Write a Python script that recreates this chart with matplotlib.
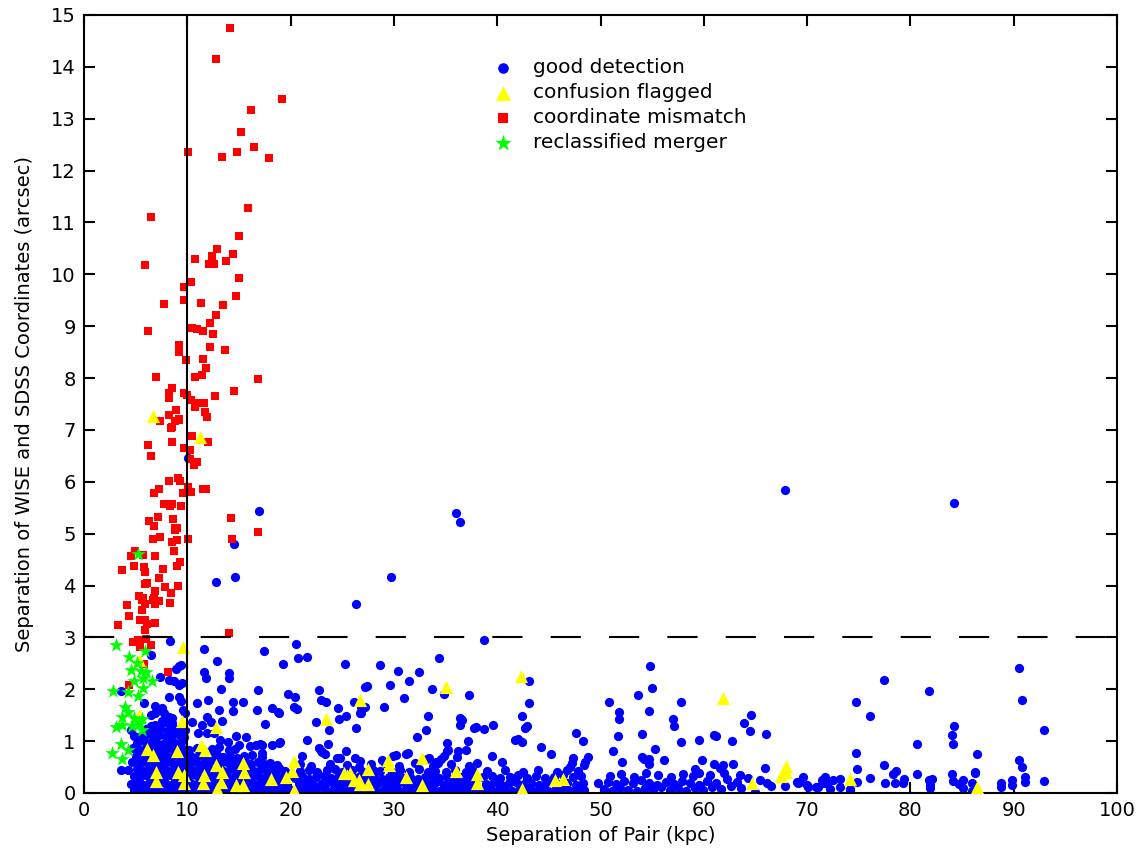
import matplotlib
matplotlib.use("Agg")
import matplotlib.pyplot as plt

# good detections, isolated points above the dense band
blue_sparse = [
    (10.1, 6.46), (16.9, 5.43), (14.5, 4.80), (12.8, 4.07), (14.6, 4.16),
    (8.3, 2.93), (11.6, 2.77), (17.4, 2.74), (6.5, 2.66), (12.9, 2.55), (19.3, 2.49),
    (9.2, 2.45), (9.4, 2.47), (8.9, 2.40), (11.6, 2.33), (14.0, 2.32), (11.8, 2.21),
    (14.0, 2.22), (7.4, 2.23), (8.2, 2.18), (8.7, 2.16), (9.5, 2.13), (9.2, 2.08),
    (13.3, 2.00), (16.8, 1.99), (3.6, 1.97), (8.2, 1.86), (9.2, 1.86), (9.4, 1.77),
    (12.0, 1.79), (14.4, 1.75), (15.4, 1.75), (10.9, 1.73), (5.8, 1.73), (6.9, 1.68),
    (7.5, 1.63), (9.6, 1.60), (9.8, 1.55), (13.1, 1.60), (14.4, 1.59), (16.7, 1.60),
    (18.2, 1.63), (18.9, 1.55), (6.5, 1.50), (6.9, 1.54), (7.7, 1.55), (8.2, 1.47),
    (8.5, 1.44), (11.9, 1.46), (7.5, 1.38), (7.9, 1.36), (8.5, 1.34), (8.5, 1.28),
    (10.5, 1.37), (11.4, 1.32), (12.3, 1.37), (13.4, 1.39), (17.5, 1.33), (6.5, 1.30),
    (6.9, 1.31), (9.8, 1.21), (11.0, 1.15), (11.9, 1.15), (12.6, 1.16), (14.7, 1.10),
    (15.7, 1.07), (17.0, 0.94), (18.2, 0.93), (18.9, 0.96), (13.2, 1.02), (13.9, 0.99),
    (15.0, 0.93), (16.1, 0.91), (3.6, 0.44), (4.5, 1.21), (4.8, 1.09),
    (20.5, 2.87), (20.7, 2.60), (21.6, 2.62), (25.3, 2.49), (26.3, 3.64), (28.7, 2.47),
    (22.7, 1.99), (22.9, 1.79), (23.4, 1.76), (24.6, 1.63), (25.4, 1.48), (24.7, 1.42),
    (26.1, 1.76), (26.8, 1.55), (27.2, 2.05), (27.4, 2.06), (26.3, 1.26), (23.7, 1.21),
    (22.5, 1.36), (19.7, 1.91), (20.4, 1.86), (20.3, 1.65), (20.6, 1.61), (18.8, 1.57),
    (21.6, 1.02), (23.6, 0.94), (22.7, 0.86), (22.9, 0.80), (25.4, 0.80), (26.2, 0.67),
    (26.6, 0.51), (24.5, 0.67), (17.2, 0.93), (16.6, 0.93), (17.2, 0.77),
    (30.4, 2.36), (32.4, 2.33), (31.5, 2.15), (34.4, 2.61), (29.6, 2.09), (33.7, 2.01),
    (34.8, 1.90), (31.0, 1.84), (37.3, 1.88), (27.2, 1.66), (26.8, 1.66), (29.0, 1.66),
    (26.7, 1.54), (33.3, 1.48), (36.4, 1.45), (36.6, 1.41), (36.4, 1.32), (37.8, 1.26),
    (33.1, 1.22), (32.2, 1.07), (37.2, 1.01), (35.1, 0.97), (19.0, 0.99), (23.0, 0.79),
    (23.3, 0.75), (31.4, 0.78), (31.2, 0.75), (30.2, 0.73), (29.9, 0.72), (33.2, 0.66),
    (34.1, 0.60), (35.1, 0.81), (34.8, 0.72), (36.2, 0.80), (37.0, 0.83), (38.0, 0.57),
    (21.1, 0.72), (24.8, 0.68), (26.7, 0.62), (28.8, 0.64), (29.1, 0.57),
    (38.7, 2.94), (43.1, 2.16), (43.1, 1.74), (42.4, 1.48), (42.7, 1.25), (42.9, 1.30),
    (37.9, 1.27), (38.7, 1.23), (39.6, 1.31), (41.7, 1.03), (42.0, 1.05), (42.4, 0.98),
    (39.5, 0.72), (44.2, 0.89), (45.2, 0.75), (47.6, 1.16), (48.3, 1.01), (40.5, 0.60),
    (47.3, 0.67), (47.2, 0.58), (48.8, 0.70), (48.5, 0.60), (48.4, 0.54), (46.8, 0.44),
    (47.0, 0.51), (50.8, 1.76), (51.8, 1.57), (51.8, 1.43), (51.7, 1.10), (51.2, 0.81),
    (52.1, 0.60), (53.6, 1.88), (54.8, 2.44), (55.0, 2.03), (54.7, 1.59), (54.0, 1.14),
    (55.3, 0.84), (54.0, 0.70), (54.2, 0.65), (54.7, 0.56), (54.7, 0.65), (56.1, 0.64),
    (57.0, 1.42), (57.1, 1.30), (49.8, 0.19),
    (29.7, 4.16), (36.0, 5.39), (36.4, 5.23), (57.8, 1.76), (57.8, 0.99), (59.5, 1.03),
    (59.8, 0.64), (61.0, 1.12), (61.2, 1.09), (62.7, 1.00), (63.9, 1.34), (64.6, 1.50),
    (64.5, 1.20), (66.0, 1.13), (65.9, 0.48), (62.8, 0.56), (61.9, 0.54), (61.6, 0.48),
    (59.1, 0.46), (59.5, 0.39), (35.2, 0.82), (36.1, 0.69), (34.6, 0.65), (34.3, 0.58),
    (33.4, 0.67),
    (74.7, 1.76), (77.4, 2.17), (76.1, 1.48), (74.7, 0.77), (80.6, 0.94), (61.0, 0.55),
    (74.8, 0.46), (77.4, 0.54), (78.3, 0.37), (78.6, 0.42), (80.6, 0.36), (76.1, 0.28),
    (74.8, 0.22), (77.5, 0.20), (78.5, 0.20), (79.3, 0.20), (79.4, 0.26), (74.2, 0.06),
    (65.0, 0.01), (69.6, 0.31), (69.3, 0.22), (70.0, 0.15),
    (67.9, 5.85), (84.2, 5.59), (90.5, 2.41), (81.8, 1.97), (90.8, 1.79), (84.2, 1.30),
    (84.0, 1.11), (84.1, 0.95), (92.9, 1.21), (86.4, 0.75), (90.5, 0.64), (90.8, 0.50),
    (91.1, 0.30), (91.1, 0.21), (92.9, 0.23), (81.8, 0.25), (82.1, 0.26), (81.9, 0.15),
    (81.9, 0.09), (84.0, 0.37), (84.1, 0.23), (84.7, 0.17), (85.1, 0.25), (85.1, 0.09),
    (86.0, 0.20), (86.3, 0.41), (86.3, 0.38), (86.0, 0.04), (88.8, 0.20), (88.8, 0.11),
    (89.8, 0.25), (89.8, 0.15), (65.4, 0.25), (66.1, 0.19), (66.5, 0.14), (67.9, 0.14),
    (69.0, 0.22), (69.1, 0.19), (70.1, 0.12), (70.9, 0.11), (71.1, 0.12), (71.4, 0.25),
    (71.6, 0.19), (71.7, 0.31), (71.9, 0.20), (72.2, 0.07), (72.5, 0.25), (73.2, 0.26),
    (73.2, 0.11), (74.2, 0.07),
]

# good detections, crowded band at small pair separation (< 10 kpc)
blue_close = [
    (4.8, 0.06), (5.4, 0.03), (6.0, 0.07), (6.6, 0.04), (7.2, 0.06), (7.8, 0.03), (8.4, 0.07), (9.0, 0.04), (9.6, 0.06),
    (4.5, 0.18), (5.1, 0.20), (5.7, 0.16), (6.3, 0.19), (6.9, 0.17), (7.5, 0.21), (8.1, 0.16), (8.7, 0.20), (9.3, 0.18), (9.9, 0.15),
    (4.8, 0.33), (5.4, 0.30), (6.0, 0.34), (6.6, 0.31), (7.2, 0.33), (7.8, 0.30), (8.4, 0.34), (9.0, 0.31), (9.6, 0.33),
    (4.3, 0.44), (5.1, 0.46), (5.7, 0.43), (6.3, 0.47), (6.9, 0.44), (7.5, 0.46), (8.1, 0.43), (8.7, 0.47), (9.3, 0.44), (9.9, 0.46),
    (4.6, 0.60), (5.4, 0.57), (6.0, 0.60), (6.6, 0.56), (7.2, 0.59), (7.8, 0.57), (8.4, 0.60), (9.0, 0.56), (9.6, 0.59),
    (5.0, 0.72), (5.7, 0.70), (6.3, 0.73), (6.9, 0.69), (7.5, 0.72), (8.1, 0.70), (8.7, 0.73), (9.3, 0.70), (9.9, 0.72),
    (4.7, 0.86), (5.4, 0.83), (6.0, 0.86), (6.6, 0.82), (7.2, 0.85), (7.8, 0.83), (8.4, 0.86), (9.0, 0.82), (9.6, 0.85),
    (5.1, 0.97), (5.8, 1.00), (6.4, 0.96), (7.0, 0.99), (7.6, 0.95), (8.2, 0.98), (8.8, 0.96), (9.4, 0.99),
    (5.5, 1.10), (6.1, 1.13), (6.7, 1.09), (7.3, 1.12), (7.9, 1.08), (8.5, 1.11), (9.1, 1.13), (9.7, 1.08),
    (6.0, 1.24), (6.8, 1.21), (7.4, 1.25), (8.0, 1.20), (8.9, 1.23), (9.6, 1.22),
]

# good detections, 10 - 20 kpc
blue_mid = [
    (10.2, 0.05), (10.8, 0.08), (11.4, 0.03), (12.0, 0.06), (12.6, 0.09), (13.2, 0.04), (13.8, 0.07), (14.4, 0.03), (15.0, 0.06),
    (15.6, 0.09), (16.2, 0.04), (16.8, 0.07), (17.4, 0.03), (18.0, 0.06), (18.6, 0.09), (19.2, 0.04), (19.8, 0.07),
    (10.5, 0.18), (11.1, 0.21), (11.7, 0.16), (12.3, 0.19), (12.9, 0.22), (13.5, 0.17), (14.1, 0.20), (14.7, 0.16),
    (15.3, 0.19), (15.9, 0.22), (16.5, 0.17), (17.1, 0.20), (17.7, 0.16), (18.3, 0.19), (18.9, 0.22), (19.5, 0.17),
    (10.2, 0.31), (10.8, 0.34), (11.4, 0.29), (12.0, 0.32), (12.6, 0.35), (13.2, 0.30), (13.8, 0.33), (14.4, 0.29), (15.0, 0.32),
    (15.6, 0.35), (16.2, 0.30), (16.8, 0.33), (17.4, 0.29), (18.0, 0.32), (18.6, 0.35), (19.2, 0.30), (19.8, 0.33),
    (10.5, 0.44), (11.1, 0.47), (11.7, 0.42), (12.3, 0.45), (12.9, 0.48), (13.5, 0.43), (14.1, 0.46), (14.7, 0.42),
    (15.3, 0.45), (15.9, 0.48), (16.5, 0.43), (17.1, 0.46), (17.7, 0.42), (18.3, 0.45), (18.9, 0.48), (19.5, 0.43),
    (10.2, 0.57), (10.8, 0.60), (11.4, 0.55), (12.0, 0.58), (12.6, 0.61), (13.2, 0.56), (13.8, 0.59), (14.4, 0.55),
    (15.0, 0.58), (15.6, 0.61), (16.2, 0.56), (16.8, 0.59), (17.4, 0.55), (18.0, 0.58), (18.7, 0.54),
    (10.5, 0.70), (11.1, 0.73), (11.7, 0.68), (12.3, 0.71), (12.9, 0.74), (13.5, 0.69), (14.1, 0.72), (14.8, 0.68),
    (15.5, 0.71), (16.3, 0.74), (17.2, 0.69),
    (10.2, 0.83), (10.9, 0.86), (11.6, 0.81), (12.4, 0.85), (13.1, 0.88), (14.0, 0.82), (14.6, 0.85),
]

# good detections, 20 - 38 kpc
blue_wide = [
    (20.4, 0.05), (21.1, 0.08), (21.8, 0.03), (22.5, 0.06), (23.2, 0.09), (23.9, 0.04), (24.6, 0.07), (25.3, 0.03), (26.0, 0.06),
    (26.7, 0.09), (27.4, 0.04), (28.1, 0.07), (28.8, 0.03), (29.5, 0.06), (30.2, 0.09), (30.9, 0.04), (31.6, 0.07), (32.3, 0.03),
    (33.0, 0.06), (33.7, 0.09), (34.4, 0.04), (35.1, 0.07), (35.8, 0.03), (36.5, 0.06), (37.2, 0.09), (37.9, 0.04),
    (20.8, 0.17), (21.5, 0.20), (22.2, 0.15), (22.9, 0.18), (23.6, 0.21), (24.3, 0.16), (25.0, 0.19), (25.7, 0.15), (26.4, 0.18),
    (27.1, 0.21), (27.8, 0.16), (28.5, 0.19), (29.2, 0.15), (29.9, 0.18), (30.6, 0.21), (31.3, 0.16), (32.0, 0.19), (32.7, 0.15),
    (33.4, 0.18), (34.1, 0.21), (34.8, 0.16), (35.5, 0.19), (36.2, 0.15), (36.9, 0.18), (37.6, 0.21),
    (20.4, 0.29), (21.1, 0.32), (21.8, 0.27), (22.5, 0.30), (23.2, 0.33), (23.9, 0.28), (24.6, 0.31), (25.3, 0.27), (26.0, 0.30),
    (26.7, 0.33), (27.4, 0.28), (28.1, 0.31), (28.8, 0.27), (29.5, 0.30), (30.2, 0.33), (30.9, 0.28), (31.6, 0.31), (32.3, 0.27),
    (33.0, 0.30), (33.7, 0.33), (34.4, 0.28), (35.1, 0.31), (35.8, 0.27), (36.5, 0.30), (37.2, 0.33), (37.9, 0.28),
    (20.9, 0.42), (21.8, 0.45), (22.6, 0.40), (23.5, 0.44), (24.3, 0.47), (25.0, 0.41), (25.9, 0.44), (27.0, 0.40), (28.0, 0.45),
    (28.7, 0.42), (29.8, 0.40), (30.6, 0.44), (31.5, 0.41), (32.4, 0.46), (33.3, 0.40), (34.0, 0.43), (35.0, 0.41), (35.9, 0.45),
    (37.0, 0.40), (37.7, 0.43),
    (20.9, 0.55), (22.0, 0.52), (23.8, 0.56), (25.5, 0.53), (27.8, 0.55), (30.5, 0.52), (32.0, 0.58), (33.8, 0.52), (35.5, 0.55),
    (37.3, 0.52),
]

# good detections, 38 - 64 kpc
blue_far = [
    (38.6, 0.06), (39.3, 0.09), (40.0, 0.04), (40.7, 0.07), (41.4, 0.03), (42.1, 0.06), (42.8, 0.09), (43.5, 0.04),
    (44.2, 0.07), (44.9, 0.03), (45.6, 0.06), (46.3, 0.09), (47.0, 0.04), (47.7, 0.07), (48.4, 0.05),
    (38.9, 0.18), (39.7, 0.21), (40.4, 0.16), (41.1, 0.19), (41.8, 0.22), (42.6, 0.17), (43.3, 0.20), (44.0, 0.16),
    (44.7, 0.19), (45.4, 0.22), (46.1, 0.17), (46.8, 0.20), (47.6, 0.16), (48.3, 0.19),
    (38.6, 0.30), (39.5, 0.33), (40.3, 0.28), (41.2, 0.31), (42.0, 0.34), (42.9, 0.29), (43.8, 0.32), (44.6, 0.28),
    (45.5, 0.31), (46.4, 0.35), (47.3, 0.30), (48.1, 0.33),
    (39.0, 0.42), (40.8, 0.45), (42.5, 0.41), (43.9, 0.44), (45.8, 0.40), (47.8, 0.43),
    (50.3, 0.08), (51.1, 0.04), (51.9, 0.10), (52.7, 0.06), (53.5, 0.03), (54.3, 0.09), (55.1, 0.05), (55.9, 0.11),
    (56.7, 0.06), (57.5, 0.09), (58.3, 0.04), (59.1, 0.10), (59.9, 0.06), (60.8, 0.12), (61.7, 0.07), (62.6, 0.13), (63.6, 0.09),
    (50.7, 0.21), (51.5, 0.17), (52.3, 0.23), (53.1, 0.19), (53.9, 0.25), (54.7, 0.20), (55.5, 0.16), (56.3, 0.22),
    (57.1, 0.18), (57.9, 0.24), (58.7, 0.20), (59.5, 0.16), (60.3, 0.23), (61.2, 0.19), (62.2, 0.26), (63.2, 0.21), (64.3, 0.28),
    (50.9, 0.33), (52.0, 0.36), (53.2, 0.31), (54.4, 0.38), (55.6, 0.34), (56.8, 0.30), (58.0, 0.37), (59.0, 0.33),
    (60.6, 0.35), (62.0, 0.39), (63.5, 0.34),
]

# confusion flagged
yellow_pts = [
    (6.7, 7.26), (11.2, 6.87), (9.6, 2.82), (5.3, 2.56), (5.3, 1.51), (9.5, 1.39), (12.8, 1.28), (11.3, 0.93),
    (11.7, 0.83), (6.1, 0.85), (6.7, 0.73), (9.0, 0.80), (12.8, 0.53), (13.4, 0.41), (15.4, 0.57), (15.5, 0.41),
    (7.0, 0.41), (7.0, 0.24), (9.1, 0.40), (9.7, 0.35), (11.6, 0.35), (11.5, 0.19), (13.3, 0.21), (14.7, 0.15),
    (15.4, 0.15), (12.9, 0.07), (18.1, 0.26), (9.7, 0.19),
    (35.0, 2.05), (26.7, 1.79), (23.4, 1.42), (20.3, 0.62), (20.1, 0.42), (19.6, 0.31), (20.3, 0.06), (29.4, 0.64),
    (29.5, 0.54), (32.7, 0.68), (25.2, 0.38), (25.7, 0.39), (26.1, 0.25), (26.6, 0.25), (26.7, 0.17), (27.5, 0.17),
    (27.5, 0.46), (31.2, 0.31), (32.7, 0.15), (36.0, 0.42), (38.0, 0.36), (38.0, 0.19),
    (42.3, 2.26), (42.4, 0.07), (45.6, 0.25), (46.4, 0.26), (61.9, 1.84), (64.7, 0.20), (68.0, 0.52), (68.0, 0.41),
    (67.5, 0.33), (74.2, 0.27), (86.4, 0.12),
]

# coordinate mismatch
red_pts = [
    (14.1, 14.74), (12.8, 14.16), (19.2, 13.39), (16.2, 13.16), (15.2, 12.74), (10.1, 12.36), (13.4, 12.27),
    (14.8, 12.35), (16.5, 12.46), (17.9, 12.24), (15.9, 11.27), (6.5, 11.10), (15.0, 10.73), (12.9, 10.49),
    (14.4, 10.40), (12.4, 10.35), (13.7, 10.26), (12.1, 10.20), (12.6, 10.20), (10.7, 10.30), (5.9, 10.18),
    (10.4, 9.85), (9.7, 9.75), (15.0, 9.92), (14.7, 9.58), (9.7, 9.50), (7.7, 9.42), (11.3, 9.44), (13.5, 9.40),
    (12.8, 9.21), (12.2, 9.06), (10.5, 8.96), (10.9, 8.94), (11.5, 8.90), (12.5, 8.85), (6.2, 8.90), (9.2, 8.64),
    (9.2, 8.51), (12.2, 8.59), (13.6, 8.54), (9.9, 8.35), (11.5, 8.36), (11.8, 8.19), (7.0, 8.03), (10.7, 8.02),
    (11.4, 8.05), (16.8, 7.98), (8.5, 7.80), (8.2, 7.71), (8.2, 7.62), (9.7, 7.72), (10.0, 7.68), (10.4, 7.58),
    (12.7, 7.65), (14.5, 7.75), (10.9, 7.51), (11.6, 7.51), (10.7, 7.45), (8.9, 7.38), (11.7, 7.34), (8.2, 7.29),
    (9.2, 7.22), (11.9, 7.25),
    (7.4, 7.17), (8.8, 7.18), (9.2, 7.20), (8.5, 7.06), (8.4, 7.03), (10.5, 6.88), (12.0, 6.76), (6.2, 6.70),
    (8.5, 6.76), (9.7, 6.65), (10.3, 6.62), (6.5, 6.49), (10.3, 6.43), (10.9, 6.38), (10.6, 6.33), (8.2, 6.01),
    (9.1, 6.07), (9.3, 6.01), (7.3, 5.86), (6.8, 5.78), (10.1, 5.89), (10.4, 5.80), (9.6, 5.78), (11.5, 5.87),
    (11.8, 5.87), (7.7, 5.58), (8.3, 5.54), (8.5, 5.57), (9.4, 5.53), (7.2, 5.33), (6.3, 5.24), (8.6, 5.28),
    (14.2, 5.30), (6.8, 5.14), (8.8, 5.11), (9.0, 5.11), (8.8, 5.07), (16.8, 5.03), (14.3, 4.89), (6.7, 4.89),
    (7.4, 4.93), (8.5, 4.83), (9.0, 4.87), (10.1, 4.89), (8.7, 4.66), (4.9, 4.66), (4.5, 4.56), (5.7, 4.58),
    (6.9, 4.56), (9.3, 4.45), (9.0, 4.37), (4.8, 4.37), (5.8, 4.35), (5.9, 4.27), (3.7, 4.29), (7.6, 4.31),
    (7.3, 4.14), (5.9, 4.02), (6.1, 4.04), (9.1, 4.00), (7.8, 3.97), (6.9, 3.89), (8.4, 3.85), (5.3, 3.79),
    (5.7, 3.75), (6.8, 3.75),
    (14.0, 3.08), (3.3, 3.23), (4.2, 3.62), (4.4, 3.41), (5.3, 3.80), (5.6, 3.72), (5.9, 3.64), (5.6, 3.53),
    (6.7, 3.72), (6.9, 3.64), (7.3, 3.70), (8.3, 3.66), (5.4, 3.34), (5.9, 3.34), (6.1, 3.26), (6.9, 3.27),
    (5.9, 3.14), (6.0, 2.97), (4.7, 2.91), (5.2, 2.95), (5.4, 2.82), (6.5, 2.85), (5.8, 2.49), (4.4, 2.08),
    (8.1, 2.33),
]

# reclassified mergers
green_pts = [
    (5.2, 4.60), (3.1, 2.85), (5.9, 2.74), (4.4, 2.62), (5.1, 2.51), (4.5, 2.38), (5.5, 2.35), (6.0, 2.33),
    (5.7, 2.22), (4.8, 2.15), (6.6, 2.15), (2.8, 1.97), (4.3, 1.95), (5.2, 1.87), (5.7, 2.02), (4.0, 1.65),
    (4.3, 1.57), (3.7, 1.47), (4.8, 1.44), (5.6, 1.42), (3.1, 1.28), (3.7, 1.31), (4.6, 1.30), (5.3, 1.33),
    (5.6, 1.21), (3.6, 0.94), (4.3, 0.83), (2.7, 0.77), (3.7, 0.65),
]

blue_pts = blue_close + blue_mid + blue_wide + blue_far + blue_sparse

fig = plt.figure(figsize=(11.48, 8.57), dpi=100)
ax = fig.add_axes([0.0732, 0.0747, 0.8998, 0.9078])

bx, by = zip(*blue_pts)
rx, ry = zip(*red_pts)
yx, yy = zip(*yellow_pts)
gx, gy = zip(*green_pts)

ax.scatter(bx, by, s=44, marker='o', color='#0000ff', linewidths=0, zorder=2, label='good detection')
ax.scatter(yx, yy, s=90, marker='^', color='#ffff00', linewidths=0, zorder=4, label='confusion flagged')
ax.scatter(rx, ry, s=40, marker='s', color='#ff0000', linewidths=0, zorder=3, label='coordinate mismatch')
ax.scatter(gx, gy, s=120, marker='*', color='#00ff00', linewidths=0, zorder=5, label='reclassified merger')

# 10 kpc cut and 3 arcsec cut
ax.axvline(10, color='black', lw=1.5, zorder=6)
ax.axhline(3, color='black', lw=1.5, ls=(0, (14.5, 13.5)), zorder=6)

ax.set_xlim(0, 100)
ax.set_ylim(0, 15)
ax.set_xticks(range(0, 101, 10))
ax.set_yticks(range(0, 16))
ax.tick_params(direction='in', length=8, width=1.5, labelsize=14,
               top=True, right=True, pad=6)
for sp in ax.spines.values():
    sp.set_linewidth(1.5)

ax.set_xlabel('Separation of Pair (kpc)', fontsize=14)
ax.set_ylabel('Separation of WISE and SDSS Coordinates (arcsec)', fontsize=14, labelpad=12)

ax.legend(loc='upper left', bbox_to_anchor=(0.378, 0.955), frameon=False,
          fontsize=14.5, labelspacing=0.3, handletextpad=0.5, borderaxespad=0,
          scatterpoints=1, markerscale=1.15)

fig.savefig('out.png', dpi=100)
